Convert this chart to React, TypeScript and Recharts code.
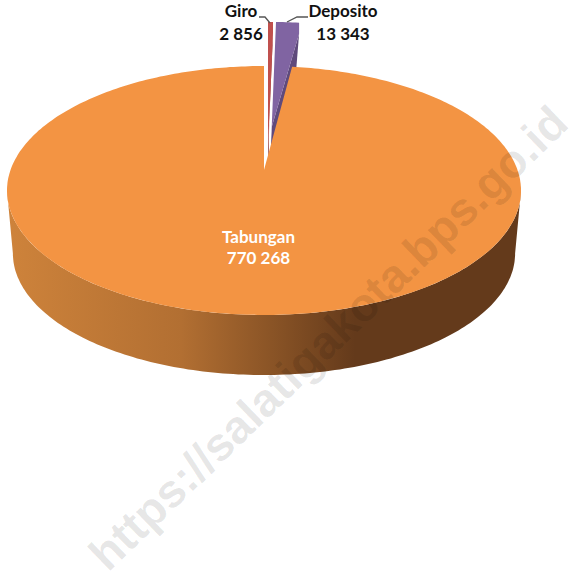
import { PieChart, Pie } from 'recharts';

const categories = ['Giro', 'Deposito', 'Tabungan'];
const seriesValues = [2856, 13343, 770268];

const pieData = categories.map((name, i) => ({ name, value: seriesValues[i] }));

// perspective of the tilted disc
const TILT = 0.1646;
const Y_SCALE = 121.1 / 253.5;
const DEPTH_SCALE = 0.977;
const DEPTH_SHIFT = 63.4;

const LOOK: Record<string, any> = {
  Giro: { top: '#C0504D', side: '#8C3836', dx: 4, dy: -44, tip: 22 },
  Deposito: { top: '#8064A2', side: '#5F4A7C', dx: 7, dy: -44, tip: 18 },
  Tabungan: { top: '#F39443', side: 'url(#wallFade)', dx: 0, dy: 0, tip: 0 },
};

const project = (cx: number, cy: number, r: number, deg: number, scale = 1, shift = 0) => {
  const rad = (deg * Math.PI) / 180;
  const u = Math.sin(rad);
  const v = Math.cos(rad);
  const w = 1 + TILT * v;
  return [cx + (r * scale * u) / w, cy + shift - (r * Y_SCALE * scale * v) / w];
};

const arc = (cx: number, cy: number, r: number, from: number, to: number, scale = 1, shift = 0) => {
  const steps = Math.max(2, Math.ceil(Math.abs(to - from)));
  const pts = [];
  for (let i = 0; i <= steps; i++) {
    pts.push(project(cx, cy, r, from + ((to - from) * i) / steps, scale, shift));
  }
  return pts;
};

const toPath = (pts: number[][]) => 'M' + pts.map((p) => p[0].toFixed(1) + ',' + p[1].toFixed(1)).join('L') + 'Z';

const DiscSlice = (props: any) => {
  const { cx, cy, outerRadius, startAngle, endAngle, name } = props;
  const look = LOOK[name];
  const x = cx + look.dx;
  const y = cy + look.dy;
  const from = 90 - startAngle;
  const to = 90 - endAngle;
  const edge = arc(x, y, outerRadius, from, to);

  if (name === 'Tabungan') {
    const tangent = (Math.acos(-TILT) * 180) / Math.PI;
    const wall = [
      ...arc(x, y, outerRadius, tangent, 360 - tangent),
      ...arc(x, y, outerRadius, 360 - tangent, tangent, DEPTH_SCALE, DEPTH_SHIFT),
    ];
    return (
      <g>
        <defs>
          <linearGradient id="wallFade" gradientUnits="userSpaceOnUse" x1={7} y1={0} x2={355} y2={0}>
            <stop offset="0%" stopColor="#CE833B" />
            <stop offset="50%" stopColor="#B26F32" />
            <stop offset="76%" stopColor="#8A5426" />
            <stop offset="100%" stopColor="#643A1B" />
          </linearGradient>
        </defs>
        <path d={toPath(wall)} fill={look.side} />
        <path d={toPath([[x, y], ...edge])} fill={look.top} />
      </g>
    );
  }

  // pulled-out slices: light top, then the darker cut face on the right
  const outer = edge[edge.length - 1];
  const tip = [x, y + look.tip];
  const rim = [outer[0], outer[1] + 11];
  const face = [tip, [x + 1, y], rim, [outer[0] - 3, outer[1] + 48], [x, y + 70]];
  return (
    <g>
      <path d={toPath(face)} fill={look.side} />
      <path d={toPath([tip, ...edge, rim, [x + 1, y]])} fill={look.top} />
    </g>
  );
};

const formatValue = (v: number) => String(v).replace(/\B(?=(\d{3})+$)/g, ' ');

const LABEL_SPOT: Record<string, any> = {
  Giro: { x: 241, y: 17, gap: 23, fill: '#111', line: 'M259,17 L265,17 L270,23' },
  Deposito: { x: 343, y: 17, gap: 23, fill: '#111', line: 'M308,17 L297,17 L287,22' },
  Tabungan: { x: 258.5, y: 243, gap: 21, fill: '#fff' },
};

const SliceLabel = (props: any) => {
  const { name, value } = props;
  const s = LABEL_SPOT[name];
  return (
    <g>
      {s.line && <path d={s.line} fill="none" stroke="#555" strokeWidth={1.3} />}
      <text
        x={s.x}
        y={s.y}
        textAnchor="middle"
        fontFamily="Lato, 'Open Sans', sans-serif"
        fontWeight={700}
        fontSize={17}
        fill={s.fill}
      >
        <tspan x={s.x}>{name}</tspan>
        <tspan x={s.x} dy={s.gap}>{formatValue(value)}</tspan>
      </text>
    </g>
  );
};

export default function App() {
  return (
    <div style={{ position: 'absolute', left: 0, top: 0, width: 572, height: 580, overflow: 'hidden', background: '#fff' }}>
      <PieChart width={572} height={580} margin={{ top: 0, right: 0, bottom: 0, left: 0 }}>
        <Pie
          data={pieData}
          dataKey="value"
          nameKey="name"
          cx={264}
          cy={170}
          innerRadius={0}
          outerRadius={253.5}
          startAngle={90}
          endAngle={-270}
          stroke="none"
          isAnimationActive={false}
          shape={DiscSlice}
          label={SliceLabel}
          labelLine={false}
        />
      </PieChart>
      <svg width={572} height={580} style={{ position: 'absolute', left: 0, top: 0, pointerEvents: 'none' }}>
        <text
          x={0}
          y={0}
          transform="translate(108,573) rotate(-44)"
          fontFamily="'Liberation Sans', Arial, sans-serif"
          fontWeight={700}
          fontSize={46.5}
          fill="#000"
          fillOpacity={0.1}
        >
          https://salatigakota.bps.go.id
        </text>
      </svg>
    </div>
  );
}
